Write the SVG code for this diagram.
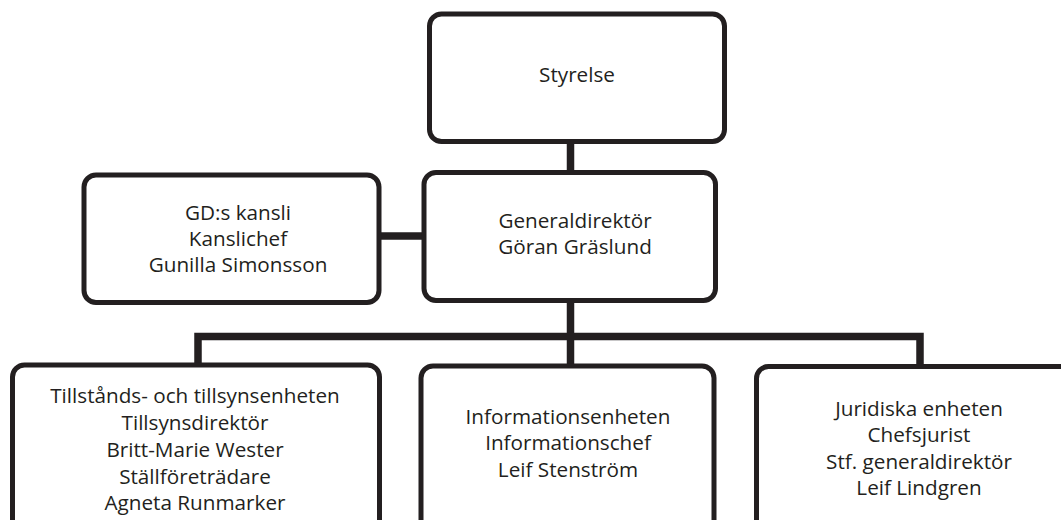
<svg xmlns="http://www.w3.org/2000/svg" width="1061" height="520" viewBox="0 0 1061 520">
<style>
.box{fill:#fff;stroke:#231f20;stroke-width:5}
.conn{fill:none;stroke:#231f20;stroke-width:7.5;stroke-linecap:square}
text{font-family:"Open Sans","Noto Sans","DejaVu Sans",sans-serif;font-size:20.7px;fill:#231f20;text-anchor:middle}
</style>
<rect width="1061" height="520" fill="#fff"/>
<g id="connectors">
<line class="conn" x1="570.5" y1="142" x2="570.5" y2="172"/>
<line class="conn" x1="380" y1="236" x2="424" y2="236"/>
<line class="conn" x1="570.5" y1="301" x2="570.5" y2="366"/>
<polyline class="conn" points="198,365 198,336.5 920,336.5 920,366"/>
</g>
<g id="styrelse">
<rect class="box" x="429.5" y="14" width="295" height="127.5" rx="12"/>
<text x="577" y="82">Styrelse</text>
</g>
<g id="generaldirektor">
<rect class="box" x="424" y="172.5" width="291.5" height="128" rx="12"/>
<text x="575" y="228">Generaldirektör</text>
<text x="575" y="254">Göran Gräslund</text>
</g>
<g id="kansli">
<rect class="box" x="84" y="175" width="295" height="127.5" rx="12"/>
<text x="238" y="220">GD:s kansli</text>
<text x="238" y="246">Kanslichef</text>
<text x="238" y="272">Gunilla Simonsson</text>
</g>
<g id="tillstand">
<rect class="box" x="12.5" y="365" width="367" height="170" rx="12"/>
<text x="195" y="403">Tillstånds- och tillsynsenheten</text>
<text x="195" y="430">Tillsynsdirektör</text>
<text x="195" y="457">Britt-Marie Wester</text>
<text x="195" y="484">Ställföreträdare</text>
<text x="195" y="510">Agneta Runmarker</text>
</g>
<g id="information">
<rect class="box" x="421" y="366" width="293" height="170" rx="12"/>
<text x="568" y="424">Informationsenheten</text>
<text x="568" y="450">Informationschef</text>
<text x="568" y="477">Leif Stenström</text>
</g>
<g id="juridiska">
<rect class="box" x="756.5" y="366.5" width="330" height="170" rx="12"/>
<text x="919" y="416">Juridiska enheten</text>
<text x="919" y="442">Chefsjurist</text>
<text x="919" y="469">Stf. generaldirektör</text>
<text x="919" y="495">Leif Lindgren</text>
</g>
</svg>
